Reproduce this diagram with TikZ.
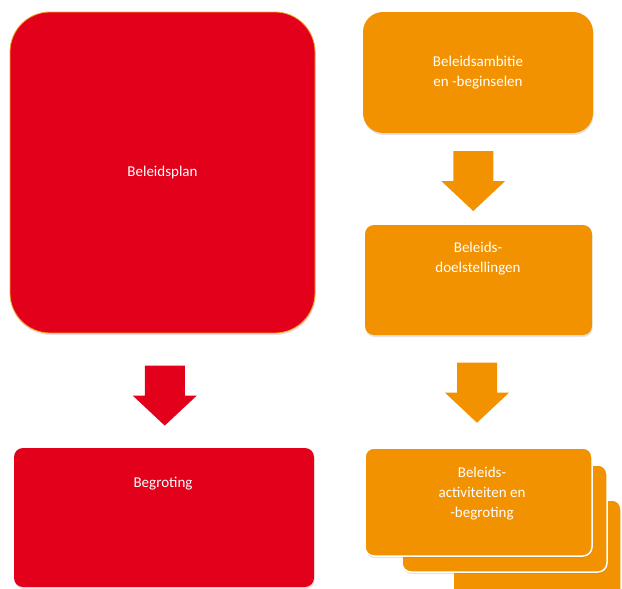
\documentclass[tikz,border=0pt]{standalone}
\usepackage{fontspec}
\setmainfont{Carlito}
\usetikzlibrary{positioning,shadows,calc}
\definecolor{beleidred}{HTML}{E2001A}
\definecolor{beleidorange}{HTML}{F39200}
\definecolor{rimorange}{HTML}{F5A623}

\tikzset{
  softshadow/.style={drop shadow={opacity=0.22,shadow xshift=0.6pt,shadow yshift=-2pt}},
  box/.style={inner sep=0pt,softshadow},
  redbox/.style={box,fill=beleidred},
  orangebox/.style={box,fill=beleidorange},
  txt/.style={text=white,align=center,font=\fontsize{15}{20}\selectfont},
  pics/blockarrow/.style={code={
    \fill[#1] (-20,-30) -- (20,-30) -- (20,0) -- (32,0) -- (0,30)
      -- (-32,0) -- (-20,0) -- cycle;
  }}
}

\begin{document}
\begin{tikzpicture}[x=1pt,y=-1pt]
\useasboundingbox (0,0) rectangle (622,589);

% left column
\node[redbox,draw=rimorange,line width=0.8pt,rounded corners=40pt,
  minimum width=305pt,minimum height=321pt,txt] (plan) at (162.5,172.5) {Beleidsplan};
\node[redbox,rounded corners=9pt,minimum width=300pt,minimum height=139pt] (begr) at (164,517.5) {};
\node[txt] (begrtxt) at (163,484) {Begroting};
\path ($(plan.south)!0.5!(begr.north)$) ++(1.5,5) pic {blockarrow=beleidred};

% right column
\node[orangebox,rounded corners=20pt,minimum width=230pt,minimum height=121pt,txt]
  (ambitie) at (478,72.5) {Beleidsambitie\\en -beginselen};
\node[orangebox,rounded corners=9pt,minimum width=227pt,minimum height=110pt] (doelen) at (478.5,280) {};
\node[txt] (doelentxt) at (478,259) {Beleids-\\doelstellingen};
\path ($(ambitie.south)!0.5!(doelen.north)$) ++(-5,2) pic {blockarrow=beleidorange};

% stacked cards
\node[orangebox,draw=white,line width=1.5pt,rounded corners=9pt,
  minimum width=168pt,minimum height=110pt] (act3) at (537,555) {};
\node[orangebox,draw=white,line width=1.5pt,rounded corners=9pt,
  minimum width=205pt,minimum height=107pt] (act2) at (504.5,518.5) {};
\node[orangebox,draw=white,line width=1.5pt,rounded corners=9pt,
  minimum width=227pt,minimum height=108pt] (act1) at (478.5,502) {};
\node[txt] (act1txt) at (482,494) {Beleids-\\activiteiten en\\-begroting};
\path ($(doelen.south)!0.5!(act1.north)$) ++(-1.5,1.5) pic {blockarrow=beleidorange};
\end{tikzpicture}
\end{document}
